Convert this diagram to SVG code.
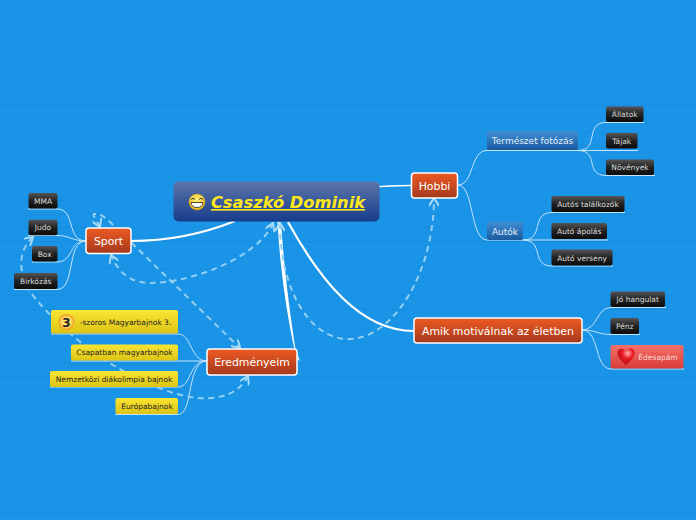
<svg xmlns="http://www.w3.org/2000/svg" width="696" height="520" viewBox="0 0 696 520">
<style>
text{font-family:"DejaVu Sans",Verdana,sans-serif;text-anchor:middle}
.main{stroke:#fff;stroke-width:1.5}
.m{font-size:10.900px;fill:#fff}
.k{font-size:7.500px;fill:#ddd}
.y{font-size:7.500px;fill:#222}
.b{font-size:9px;fill:#e4eefa}
.link{fill:none;stroke:#fff}
.thin{fill:none;stroke:#c4e4fa;stroke-width:1}
.rel{fill:none;stroke:#93d0f3;stroke-width:2;stroke-dasharray:6 4.500;marker-end:url(#ar);marker-start:url(#ar)}
</style>
<defs>
<pattern id="bg" width="696" height="13.600" patternUnits="userSpaceOnUse" y="-3"><rect width="696" height="13.600" fill="#1a94e6"/><rect y="13" width="696" height="0.800" fill="#1789da"/></pattern>
<linearGradient id="gc" x1="0" y1="0" x2="0" y2="1"><stop offset="0" stop-color="#5c76aa"/><stop offset="1" stop-color="#173c8c"/></linearGradient>
<linearGradient id="go" x1="0" y1="0" x2="0" y2="1"><stop offset="0" stop-color="#ee5a22"/><stop offset="1" stop-color="#a4391c"/></linearGradient>
<linearGradient id="gk" x1="0" y1="0" x2="0" y2="1"><stop offset="0" stop-color="#555"/><stop offset="0.5" stop-color="#222"/><stop offset="1" stop-color="#0c0c0c"/></linearGradient>
<linearGradient id="gy" x1="0" y1="0" x2="0" y2="1"><stop offset="0" stop-color="#fbe533"/><stop offset="1" stop-color="#dcc414"/></linearGradient>
<linearGradient id="gb" x1="0" y1="0" x2="0" y2="1"><stop offset="0" stop-color="#3f8fd6"/><stop offset="1" stop-color="#1b5a9e"/></linearGradient>
<linearGradient id="gr" x1="0" y1="0" x2="0" y2="1"><stop offset="0" stop-color="#f4706a"/><stop offset="1" stop-color="#d93c38"/></linearGradient>
<radialGradient id="gs" cx="0.5" cy="0.35" r="0.7"><stop offset="0" stop-color="#fff27a"/><stop offset="1" stop-color="#eeb010"/></radialGradient>
<radialGradient id="g3" cx="0.5" cy="0.5" r="0.5"><stop offset="0.55" stop-color="#ffe26a"/><stop offset="1" stop-color="#f09a20"/></radialGradient>
<radialGradient id="gh" cx="0.6" cy="0.3" r="0.8"><stop offset="0" stop-color="#ffb0b0"/><stop offset="0.4" stop-color="#e81820"/><stop offset="1" stop-color="#a01018"/></radialGradient>
<marker id="ar" viewBox="0 0 10 10" refX="9" refY="5" markerWidth="5" markerHeight="5" orient="auto-start-reverse"><path d="M1 0L9 5L1 10" fill="none" stroke="#a8dbf7" stroke-width="2"/></marker>
</defs>
<rect width="696" height="520" fill="url(#bg)"/>
<g id="connectors">
<path class="link" stroke-width="2" d="M131 241C170 241 205 233 235 221"/>
<path class="link" stroke-width="1.500" d="M379 186.500C390 186 400 185.500 412 185.500"/>
<path d="M277.500 222L281 222C284 270 291 320 295.500 349L300 361L296.500 358L294.500 349C288 320 280 270 277.500 222Z" fill="#fff"/>
<path class="link" stroke-width="2.200" d="M288 222C320 280 360 331 414 331"/>
<g class="thin">
<path d="M86 241C66 241 76 209 57 209H28"/>
<path d="M86 241C72 241 70 235.500 57 235.500H28"/>
<path d="M86 241C68 241 74 262 57 262H32"/>
<path d="M86 241C66 241 76 289.500 57 289.500H14"/>
<path d="M207 361C190 361 192 334 178 334H51"/>
<path d="M207 361H71"/>
<path d="M207 361C188 361 192 387 178 387H50"/>
<path d="M207 361C186 361 194 414.500 178 414.500H115"/>
<path d="M458 185C474 185 470 150.500 487 150.500H578"/>
<path d="M458 185C474 185 470 240 487 240H523"/>
<path d="M578 150.500C600 150.500 584 122.500 606 122.500H644"/>
<path d="M578 150.500H638"/>
<path d="M578 150.500C600 150.500 584 175.500 606 175.500H655"/>
<path d="M523 240C545 240 530 212.500 552 212.500H625"/>
<path d="M523 240H608"/>
<path d="M523 240C545 240 530 266 552 266H613"/>
<path d="M582 330C598 330 596 307.500 611 307.500H666"/>
<path d="M582 330C596 330 598 334.500 611 334.500H640"/>
<path d="M582 330C600 330 594 369 611 369H684"/>
</g>
<path class="rel" d="M273 223C258 258 190 283 150 283C130 283 118 272 111 255"/>
<path class="rel" d="M100 227C97 220 90 213 96 214C100 213 104 217 110 222L240 348"/>
<path class="rel" d="M33 237C18 250 16 275 35 298C70 340 130 385 190 397C215 401 238 396 248 376"/>
<path class="rel" d="M280 223C280 290 310 339 348 339C395 339 434 270 434 198"/>
</g>
<g id="central"><rect x="173.500" y="181.500" width="206" height="40" rx="5" fill="url(#gc)"/>
<circle cx="197" cy="202" r="8" fill="url(#gs)" stroke="#c99a10" stroke-width="0.500"/><path d="M191 199.500q2-2.500 4 0M199 199.500q2-2.500 4 0" fill="none" stroke="#333" stroke-width="1"/><path d="M191 202.500h12q-0.500 5-6 5t-6-5z" fill="#fff" stroke="#222" stroke-width="0.800"/>
<text x="288" y="208" style="font-size:16.300px;font-weight:bold;font-style:italic;fill:#ffe81a;text-decoration:underline">Csaszkó Dominik</text></g>
<g id="sport"><rect class="main" x="86" y="228" width="45" height="25.500" rx="3" fill="url(#go)"/><text class="m" x="108.500" y="245">Sport</text></g>
<g id="hobbi"><rect class="main" x="411.500" y="173" width="46" height="25" rx="3" fill="url(#go)"/><text class="m" x="434.500" y="190">Hobbi</text></g>
<g id="eredmenyeim"><rect class="main" x="207" y="349" width="90" height="26" rx="3" fill="url(#go)"/><text class="m" x="252" y="366">Eredményeim</text></g>
<g id="amik"><rect class="main" x="414" y="318" width="168" height="25" rx="3" fill="url(#go)"/><text class="m" x="498" y="335">Amik motiválnak az életben</text></g>
<g id="termeszet"><rect x="487" y="131" width="91" height="19" rx="2" fill="url(#gb)"/><text class="b" x="532.500" y="144">Természet fotózás</text></g>
<g id="autok"><rect x="487" y="221.500" width="36" height="18.500" rx="2" fill="url(#gb)"/><text class="b" x="505" y="234.500">Autók</text></g>
<g id="allatok"><rect x="606" y="106.500" width="37.500" height="15.500" rx="2" fill="url(#gk)"/><text class="k" x="624.700" y="117">Állatok</text></g>
<g id="tajak"><rect x="606" y="133" width="31.500" height="15.500" rx="2" fill="url(#gk)"/><text class="k" x="621.700" y="143.500">Tájak</text></g>
<g id="novenyek"><rect x="606" y="159.500" width="48" height="15.500" rx="2" fill="url(#gk)"/><text class="k" x="630" y="170">Növények</text></g>
<g id="talalkozok"><rect x="551.500" y="196" width="73" height="16" rx="2" fill="url(#gk)"/><text class="k" x="588" y="206.500">Autós találkozók</text></g>
<g id="apolas"><rect x="551.500" y="223" width="55.500" height="16" rx="2" fill="url(#gk)"/><text class="k" x="579.200" y="233.500">Autó ápolás</text></g>
<g id="verseny"><rect x="551.500" y="249.500" width="61" height="16" rx="2" fill="url(#gk)"/><text class="k" x="582" y="260.500">Autó verseny</text></g>
<g id="mma"><rect x="28.500" y="193" width="29" height="15.500" rx="2" fill="url(#gk)"/><text class="k" x="43" y="203.500">MMA</text></g>
<g id="judo"><rect x="28.500" y="219.800" width="29" height="15.500" rx="2" fill="url(#gk)"/><text class="k" x="43" y="230">Judo</text></g>
<g id="box"><rect x="32" y="246" width="25.500" height="15.500" rx="2" fill="url(#gk)"/><text class="k" x="44.700" y="257">Box</text></g>
<g id="birkozas"><rect x="14" y="273" width="43.500" height="16" rx="2" fill="url(#gk)"/><text class="k" x="35.700" y="284">Birkózás</text></g>
<g id="magyarbajnok3"><rect x="51" y="310" width="127" height="23.500" rx="2" fill="url(#gy)"/>
<circle cx="66.500" cy="322" r="8" fill="url(#g3)"/><text x="66.500" y="326.500" style="font-size:12px;font-weight:bold;fill:#222">3</text>
<text class="y" x="125.500" y="325">-szoros Magyarbajnok 3.</text></g>
<g id="csapatban"><rect x="71" y="344.500" width="107" height="16" rx="2" fill="url(#gy)"/><text class="y" x="124.500" y="355">Csapatban magyarbajnok</text></g>
<g id="nemzetkozi"><rect x="50" y="371" width="128" height="16" rx="2" fill="url(#gy)"/><text class="y" x="114" y="382">Nemzetközi diákolimpia bajnok</text></g>
<g id="europa"><rect x="115.500" y="398" width="62.500" height="16" rx="2" fill="url(#gy)"/><text class="y" x="147" y="409">Európabajnok</text></g>
<g id="jo"><rect x="610.500" y="291.500" width="54.500" height="15.500" rx="2" fill="url(#gk)"/><text class="k" x="637.700" y="302">Jó hangulat</text></g>
<g id="penz"><rect x="610.500" y="318" width="28.500" height="16" rx="2" fill="url(#gk)"/><text class="k" x="624.700" y="329">Pénz</text></g>
<g id="edesapam"><rect x="610.500" y="345" width="73" height="23.500" rx="2" fill="url(#gr)"/>
<path d="M626 365C620 360 617 356 617.500 352C618 348 623.500 347.500 625.500 351C627.500 347 634 347.500 634.500 352C635 356.500 631 361 626 365Z" fill="url(#gh)"/>
<text x="658" y="360" style="font-size:7.500px;fill:#fbdada">Édesapám</text></g>
</svg>
